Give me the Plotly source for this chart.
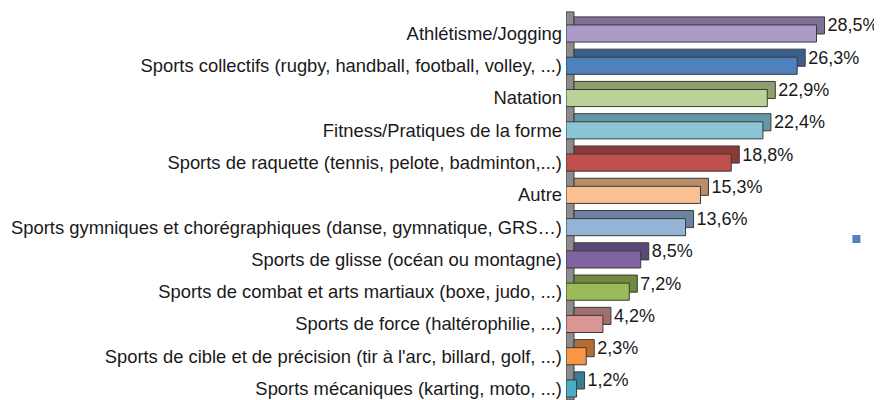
import plotly.graph_objects as go

categories = [
    "Athlétisme/Jogging",
    "Sports collectifs (rugby, handball, football, volley, ...)",
    "Natation",
    "Fitness/Pratiques de la forme",
    "Sports de raquette (tennis, pelote, badminton,...)",
    "Autre",
    "Sports gymniques et chorégraphiques (danse, gymnatique, GRS…)",
    "Sports de glisse (océan ou montagne)",
    "Sports de combat et arts martiaux (boxe, judo, ...)",
    "Sports de force (haltérophilie, ...)",
    "Sports de cible et de précision (tir à l'arc, billard, golf, ...)",
    "Sports mécaniques (karting, moto, ...)",
]
values = [28.5, 26.3, 22.9, 22.4, 18.8, 15.3, 13.6, 8.5, 7.2, 4.2, 2.3, 1.2]
labels = [f"{v:.1f}".replace(".", ",") + "%" for v in values]
series_name = "I"

front_colors = ["#A99BC6", "#4F81BD", "#BCD197", "#8BC6D6", "#C0504D", "#FAC090",
                "#95B3D7", "#8064A2", "#9BBB59", "#D99694", "#F79646", "#4BACC6"]
top_colors = ["#7F6F9B", "#3A5F8C", "#8E9F6C", "#6498A8", "#8E3A38", "#B88D69",
              "#6C83A0", "#5D4977", "#718A40", "#A06E6D", "#B66D32", "#367F93"]

n = len(categories)
pos = [n - 1 - i for i in range(n)]
depth_x = 0.91
depth_y = 0.25
bw = 0.53
FONT = "Liberation Sans, Arial, sans-serif"

fig = go.Figure()
# back (depth) faces
fig.add_trace(go.Bar(
    orientation="h", y=pos, x=values, base=[depth_x] * n,
    width=bw, offset=-bw / 2 + depth_y,
    marker=dict(color=top_colors, line=dict(color="#3a3a3a", width=1)),
    text=labels, textposition="outside", cliponaxis=False, constraintext="none",
    textfont=dict(family=FONT, size=18, color="#1a1a1a"),
    showlegend=False, hoverinfo="skip",
))
# front faces
fig.add_trace(go.Bar(
    orientation="h", y=pos, x=values,
    width=bw, offset=-bw / 2,
    marker=dict(color=front_colors, line=dict(color="#3a3a3a", width=1)),
    showlegend=False,
))
# legend entry
fig.add_trace(go.Scatter(
    x=[None], y=[None], mode="markers", name=series_name,
    marker=dict(symbol="square", size=8, color="#4F81BD"),
))

fig.add_shape(type="rect", xref="x", yref="paper", x0=0, x1=depth_x, y0=0, y1=0.99,
              fillcolor="#8c8c8c", line=dict(color="#404040", width=1), layer="below")

fig.update_layout(
    width=882, height=400,
    margin=dict(l=558, r=50, t=0, b=8, autoexpand=False),
    paper_bgcolor="white", plot_bgcolor="white",
    barmode="overlay",
    font=dict(family=FONT, size=18.4, color="#1a1a1a"),
    showlegend=True,
    legend=dict(x=0.987, y=0.41, xanchor="left", yanchor="middle",
                font=dict(size=18), bgcolor="rgba(0,0,0,0)"),
    xaxis=dict(range=[0, 31.17], showticklabels=False, showgrid=False,
               zeroline=False, showline=False, fixedrange=True),
    yaxis=dict(range=[-0.356, 11.79], tickvals=pos, ticktext=categories,
               showgrid=False, zeroline=False, showline=False, ticks="",
               ticklabelstandoff=3, fixedrange=True, automargin=False),
)

fig.write_html("out.html")
